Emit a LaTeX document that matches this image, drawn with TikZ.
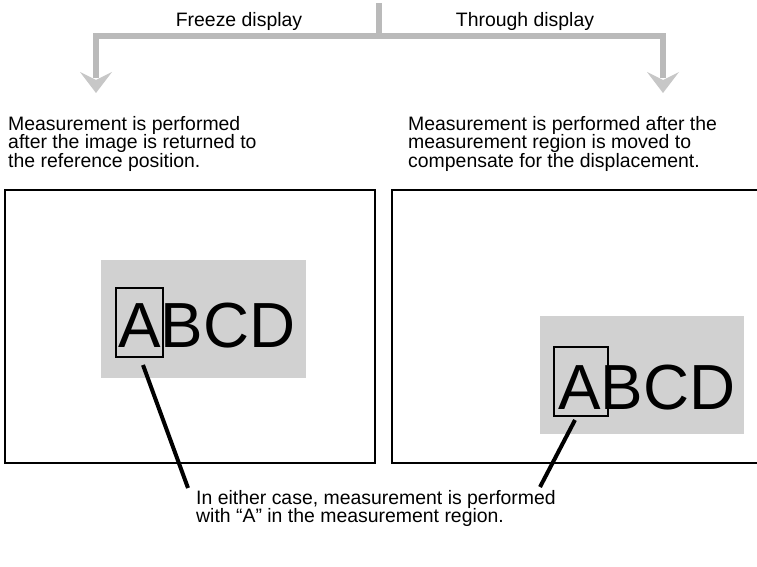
\documentclass[tikz,border=0pt]{standalone}
\usepackage{fontspec}
\setmainfont{Liberation Sans}
\begin{document}
\begin{tikzpicture}[x=1bp,y=-1bp,
  lbl/.style={inner sep=0pt, font=\fontsize{19.5}{18.5}\selectfont, align=left},
  big/.style={inner sep=0pt, font=\fontsize{64}{64}\selectfont},
  frame/.style={draw=black, line width=1.8bp},
  shade/.style={fill=black!18},
  abox/.style={draw=black, line width=1.8bp},
  pointer/.style={draw=black, line width=4bp},
  flow/.style={draw=black!27, line width=6.5bp},
  head/.style={fill=black!22}]
\useasboundingbox (0,0) rectangle (757,567);
% flow connector
\coordinate (top) at (379,3);
\coordinate (mid) at (379,36);
\coordinate (lc) at (96,36);
\coordinate (rc) at (663,36);
\coordinate (la) at (96,78);
\coordinate (ra) at (663,78);
\draw[flow] (top) -- (mid);
\draw[flow] (la) -- (lc) -- (rc) -- (ra);
\fill[head] (96,93) -- (80,72) -- (96,80) -- (112,72) -- cycle;
\fill[head] (663,93) -- (647,72) -- (663,80) -- (679,72) -- cycle;
\node[lbl, anchor=base] (freeze) at (239,27) {Freeze display};
\node[lbl, anchor=base] (through) at (525,27) {Through display};
% descriptions
\node[lbl, anchor=north west] (ldesc) at (8,116) {Measurement is performed\\after the image is returned to\\the reference position.};
\node[lbl, anchor=north west] (rdesc) at (408,116) {Measurement is performed after the\\measurement region is moved to\\compensate for the displacement.};
% frames
\draw[frame] (5,463) -- (5,190) -- (375,190) -- (375,463) -- cycle;
\draw[frame] (757,463) -- (392,463) -- (392,190) -- (757,190);
% left image
\fill[shade] (101,260) rectangle (306,378);
\node[big, anchor=base west] (labcd) at (118,347) {ABCD};
\draw[abox] (116,288) rectangle (163,357);
% right image
\fill[shade] (540,316) rectangle (744,434);
\node[big, anchor=base west] (rabcd) at (558,409) {ABCD};
\draw[abox] (554,347) rectangle (608,416);
% pointers
\coordinate (lp1) at (143,365);
\coordinate (lp2) at (188,488);
\coordinate (rp1) at (575,420);
\coordinate (rp2) at (540,487);
\draw[pointer] (lp1) -- (lp2);
\draw[pointer] (rp1) -- (rp2);
\node[lbl, anchor=north west] (note) at (196,490) {In either case, measurement is performed\\with “A” in the measurement region.};
\end{tikzpicture}
\end{document}
